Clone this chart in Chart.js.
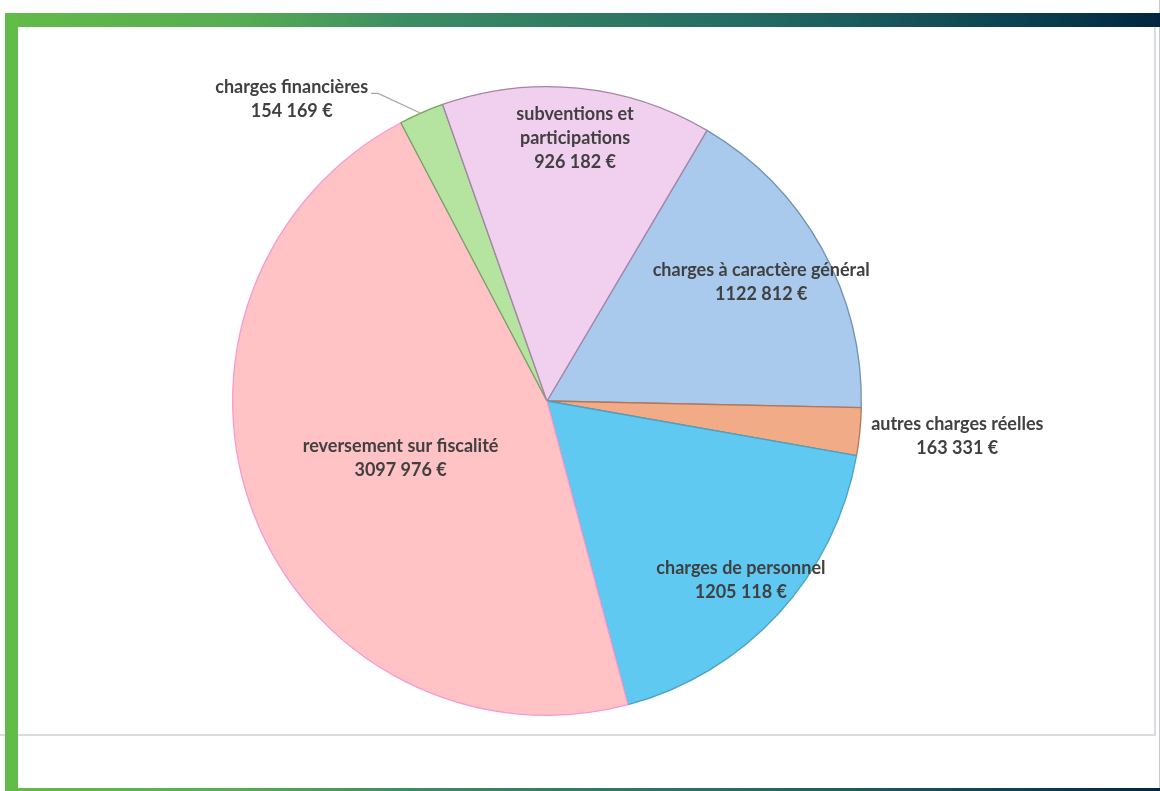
<!DOCTYPE html>
<html lang="fr">
<head>
<meta charset="utf-8">
<title>Dépenses de fonctionnement</title>
<script src="https://cdn.jsdelivr.net/npm/chart.js@4/dist/chart.umd.min.js"></script>
<style>
  html, body { margin: 0; padding: 0; background: #fff; }
  body { width: 1160px; height: 791px; position: relative; overflow: hidden; }
  .barre-haut { position: absolute; left: 5px; top: 13px; width: 1155px; height: 14px;
    background: linear-gradient(to right, #62bb48 0%, #57ad52 20%, #3c8c63 35%, #246a63 65%, #0a4250 88%, #02263f 100%); }
  .barre-bas { position: absolute; left: 5px; top: 788px; width: 1155px; height: 3px;
    background: linear-gradient(to right, #62bb48 0%, #57ad52 20%, #3c8c63 35%, #246a63 65%, #0a4250 88%, #02263f 100%); }
  .barre-gauche { position: absolute; left: 5px; top: 13px; width: 13px; height: 778px; background: #62bc48; }
  .cadre { position: absolute; left: 0; top: 27px; width: 1154px; height: 707px;
    border-right: 2px solid #dcdcdc; border-bottom: 2px solid #dcdcdc; }
  .trait-droit { position: absolute; left: 1159px; top: 0; width: 1px; height: 791px; background: #c3cccc; }
  canvas { position: absolute; left: 0; top: 0; }
</style>
</head>
<body>
<div class="cadre"></div>
<div class="trait-droit"></div>
<div class="barre-haut"></div>
<div class="barre-gauche"></div>
<div class="barre-bas"></div>
<canvas id="camembert" width="1160" height="791"></canvas>

<script>
// Postes de dépenses (dans l'ordre du tracé, sens horaire)
const postes = [
  ['charges à caractère général'],
  ['autres charges réelles'],
  ['charges de personnel'],
  ['reversement sur fiscalité'],
  ['charges financières'],
  ['subventions et', 'participations']
];
const montants = [1122812, 163331, 1205118, 3097976, 154169, 926182];

const couleurs = ['#a9caec', '#f2ab87', '#5fc9f1', '#ffc2c5', '#b5e3a0', '#f1cfef'];
const bordures = ['#7092b4', '#b87454', '#4ba2c4', '#f59ad2', '#76a064', '#a585a6'];

// placement des étiquettes : facteur du rayon + décalage d'angle (degrés)
const placement = [
  { f: 0.78, da: 0 },
  { f: 1.31, da: -0.7 },
  { f: 0.84, da: 0.2 },
  { f: 0.50, da: 0 },
  { f: 1.257, da: -16.7, trait: true },
  { f: 0.84, da: 0.5 }
];

// "1122 812 €" : seul le dernier groupe de 3 chiffres est séparé
function formatEuro(v) {
  const mille = Math.floor(v / 1000);
  const reste = String(v % 1000).padStart(3, '0');
  return mille + ' ' + reste + ' €';
}

const etiquettes = {
  id: 'etiquettes',
  afterDatasetsDraw(chart) {
    const ctx = chart.ctx;
    const arcs = chart.getDatasetMeta(0).data;
    ctx.save();
    ctx.font = 'bold 18px Lato, "Open Sans", sans-serif';
    ctx.fillStyle = '#404040';
    ctx.textAlign = 'center';
    ctx.textBaseline = 'middle';
    arcs.forEach((arc, i) => {
      const p = placement[i];
      const milieu = (arc.startAngle + arc.endAngle) / 2;
      const a = milieu + p.da * Math.PI / 180;
      const r = arc.outerRadius * p.f;
      const x = arc.x + Math.cos(a) * r;
      const y = arc.y + Math.sin(a) * r;
      const lignes = postes[i].concat([formatEuro(montants[i])]);
      const y0 = y - (lignes.length - 1) * 12;
      lignes.forEach((t, k) => ctx.fillText(t, x, y0 + k * 24));

      if (p.trait) {
        // trait de rappel vers la part
        const w = ctx.measureText(lignes[0]).width;
        const xd = x + w / 2 + 3;
        const yd = y0 + 6;
        const xa = arc.x + Math.cos(milieu) * (arc.outerRadius - 1);
        const ya = arc.y + Math.sin(milieu) * (arc.outerRadius - 1);
        ctx.strokeStyle = '#a6a6a6';
        ctx.lineWidth = 1.2;
        ctx.beginPath();
        ctx.moveTo(xd, yd);
        ctx.lineTo(xd + 7, yd);
        ctx.lineTo(xa, ya);
        ctx.stroke();
      }
    });
    ctx.restore();
  }
};

new Chart(document.getElementById('camembert'), {
  type: 'pie',
  data: {
    labels: postes.map(p => p.join(' ')),
    datasets: [{
      data: montants,
      backgroundColor: couleurs,
      borderColor: bordures,
      borderWidth: 1.3
    }]
  },
  options: {
    responsive: false,
    animation: false,
    devicePixelRatio: 1,
    rotation: 30.6,
    layout: { padding: { left: 232, right: 298, top: 86, bottom: 75 } },
    plugins: { legend: { display: false }, tooltip: { enabled: false } }
  },
  plugins: [etiquettes]
});
</script>
</body>
</html>
